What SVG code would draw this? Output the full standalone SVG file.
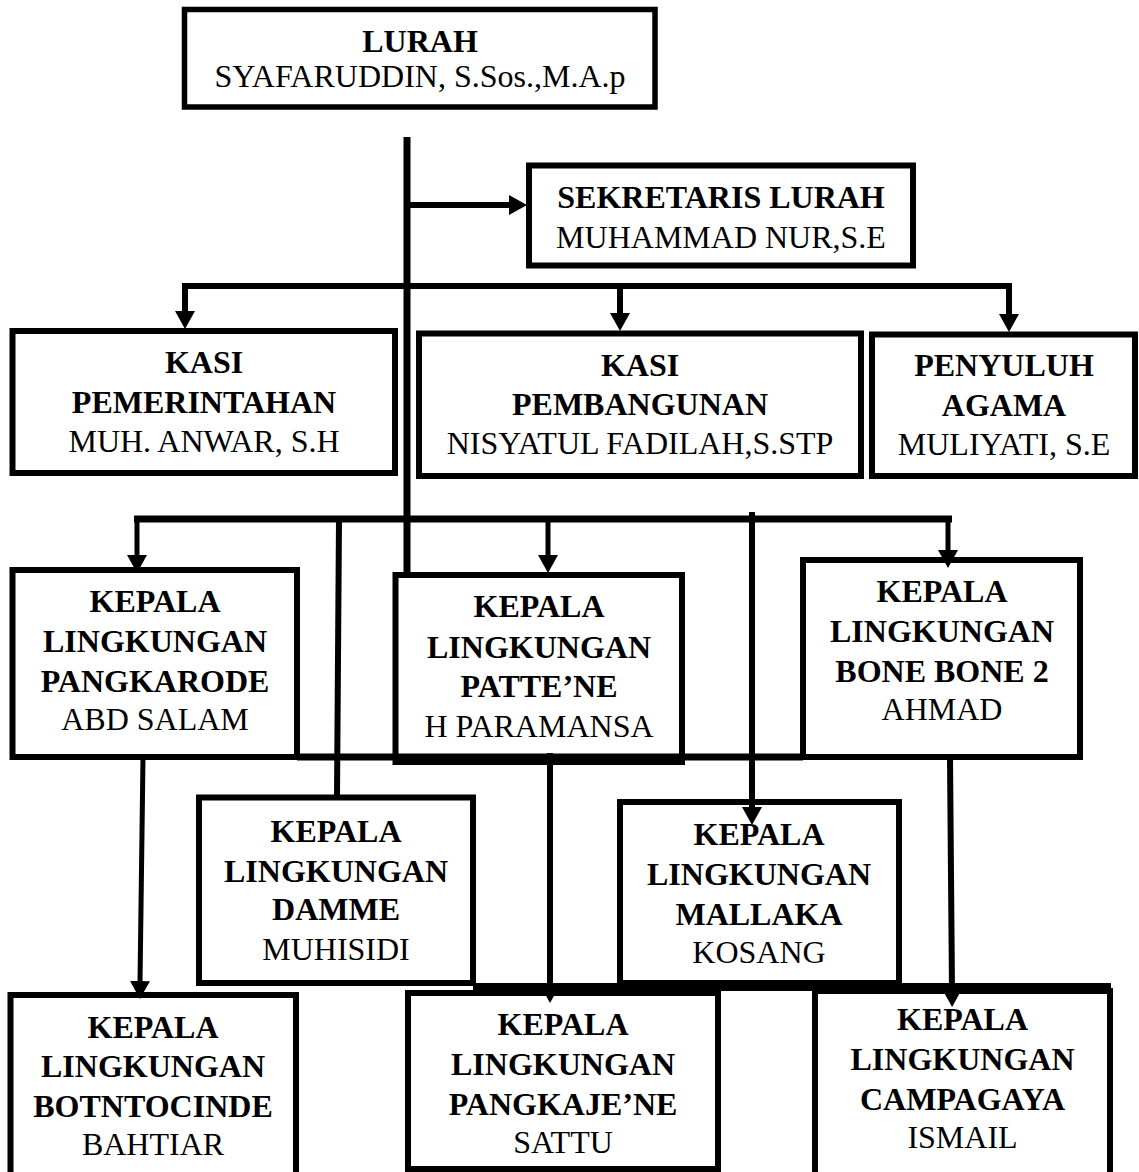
<svg xmlns="http://www.w3.org/2000/svg" width="1139" height="1172" viewBox="0 0 1139 1172">
<defs>
<style>
.box{fill:#fff;stroke:#000;stroke-width:6}
text{font-family:"Liberation Serif","Times New Roman",serif;font-size:32px;text-anchor:middle;fill:#000}
.b{font-weight:bold}
.ln{fill:none;stroke:#000;stroke-width:6;stroke-linejoin:miter}
.bar{stroke-width:7}
.thin{stroke-width:5}
.arr{marker-end:url(#ah)}
</style>
<marker id="ah" viewBox="0 0 18 20" refX="2" refY="10" markerWidth="18" markerHeight="20" markerUnits="userSpaceOnUse" orient="auto">
<path d="M0,0 L18,10 L0,20 Z" fill="#000"/>
</marker>
</defs>
<rect width="1139" height="1172" fill="#fff"/>

<g id="lurah">
<rect class="box" x="184.5" y="9.5" width="470.5" height="97.5" style="stroke-width:5.5"/>
<text class="b" x="420" y="52">LURAH</text>
<text x="420" y="87">SYAFARUDDIN, S.Sos.,M.A.p</text>
</g>

<g id="sekretaris">
<rect class="box" x="529" y="165.5" width="384" height="100"/>
<text class="b" x="721" y="208">SEKRETARIS LURAH</text>
<text x="721" y="248">MUHAMMAD NUR,S.E</text>
</g>

<g id="kasi-pemerintahan">
<rect class="box" x="12.5" y="331" width="382.5" height="142"/>
<text class="b" x="204" y="373">KASI</text>
<text class="b" x="204" y="413">PEMERINTAHAN</text>
<text x="204" y="452">MUH. ANWAR, S.H</text>
</g>

<g id="kasi-pembangunan">
<rect class="box" x="419" y="333.5" width="442" height="142.5"/>
<text class="b" x="640" y="376">KASI</text>
<text class="b" x="640" y="415">PEMBANGUNAN</text>
<text x="640" y="454">NISYATUL FADILAH,S.STP</text>
</g>

<g id="penyuluh-agama">
<rect class="box" x="872" y="334.5" width="263" height="141.5"/>
<text class="b" x="1004" y="376">PENYULUH</text>
<text class="b" x="1004" y="416">AGAMA</text>
<text x="1004" y="455">MULIYATI, S.E</text>
</g>

<g id="kl-pangkarode">
<rect class="box" x="12.5" y="570" width="284.5" height="187"/>
<text class="b" x="155" y="612">KEPALA</text>
<text class="b" x="155" y="652">LINGKUNGAN</text>
<text class="b" x="155" y="692">PANGKARODE</text>
<text x="155" y="730">ABD SALAM</text>
</g>

<g id="kl-pattene">
<rect class="box" x="395.5" y="575" width="286.5" height="187"/>
<text class="b" x="539" y="617">KEPALA</text>
<text class="b" x="539" y="658">LINGKUNGAN</text>
<text class="b" x="539" y="697">PATTE’NE</text>
<text x="539" y="737">H PARAMANSA</text>
</g>

<g id="kl-bonebone2">
<rect class="box" x="803" y="560" width="277" height="197"/>
<text class="b" x="942" y="602">KEPALA</text>
<text class="b" x="942" y="642">LINGKUNGAN</text>
<text class="b" x="942" y="682">BONE BONE 2</text>
<text x="942" y="720">AHMAD</text>
</g>

<g id="kl-damme">
<rect class="box" x="199" y="797.5" width="274" height="185.5"/>
<text class="b" x="336" y="842">KEPALA</text>
<text class="b" x="336" y="882">LINGKUNGAN</text>
<text class="b" x="336" y="920">DAMME</text>
<text x="336" y="960">MUHISIDI</text>
</g>

<g id="kl-mallaka">
<rect class="box" x="620" y="802" width="279" height="181"/>
<text class="b" x="759" y="845">KEPALA</text>
<text class="b" x="759" y="885">LINGKUNGAN</text>
<text class="b" x="759" y="925">MALLAKA</text>
<text x="759" y="963">KOSANG</text>
</g>

<g id="kl-botntocinde">
<rect class="box" x="10.5" y="995" width="285.5" height="200"/>
<text class="b" x="153" y="1038">KEPALA</text>
<text class="b" x="153" y="1077">LINGKUNGAN</text>
<text class="b" x="153" y="1117">BOTNTOCINDE</text>
<text x="153" y="1155">BAHTIAR</text>
</g>

<g id="kl-pangkajene">
<rect class="box" x="408" y="993" width="310" height="176"/>
<text class="b" x="563" y="1035">KEPALA</text>
<text class="b" x="563" y="1075">LINGKUNGAN</text>
<text class="b" x="563" y="1115">PANGKAJE’NE</text>
<text x="563" y="1153">SATTU</text>
</g>

<g id="kl-campagaya">
<rect class="box" x="815" y="991" width="295" height="200"/>
<text class="b" x="962.5" y="1030">KEPALA</text>
<text class="b" x="962.5" y="1070">LINGKUNGAN</text>
<text class="b" x="962.5" y="1110">CAMPAGAYA</text>
<text x="962.5" y="1148">ISMAIL</text>
</g>

<g id="connectors">
<path class="ln bar" d="M407,137 V573"/>
<path class="ln arr" d="M407,205 H511"/>
<path class="ln arr" d="M620,286 H185 V313"/>
<path class="ln arr" d="M620,286 H1009 V316"/>
<path class="ln arr" d="M620,286 V315"/>
<path class="ln bar" d="M134,519 H952"/>
<path class="ln thin arr" d="M137,519 V557"/>
<path class="ln thin arr" d="M548,519 V557"/>
<path class="ln thin arr" d="M948,519 V552"/>
<path class="ln" d="M339,519 L337,797"/>
<path class="ln arr" d="M752,512 V809"/>
<path class="ln bar" d="M297,757 H803"/>
<path class="ln thin arr" d="M143,757 L140,983"/>
<path class="ln arr" d="M550,753 V987"/>
<path class="ln arr" d="M950,757 L952,991"/>
<path class="ln" style="stroke-width:8" d="M473,987 H1111"/>
</g>
</svg>
